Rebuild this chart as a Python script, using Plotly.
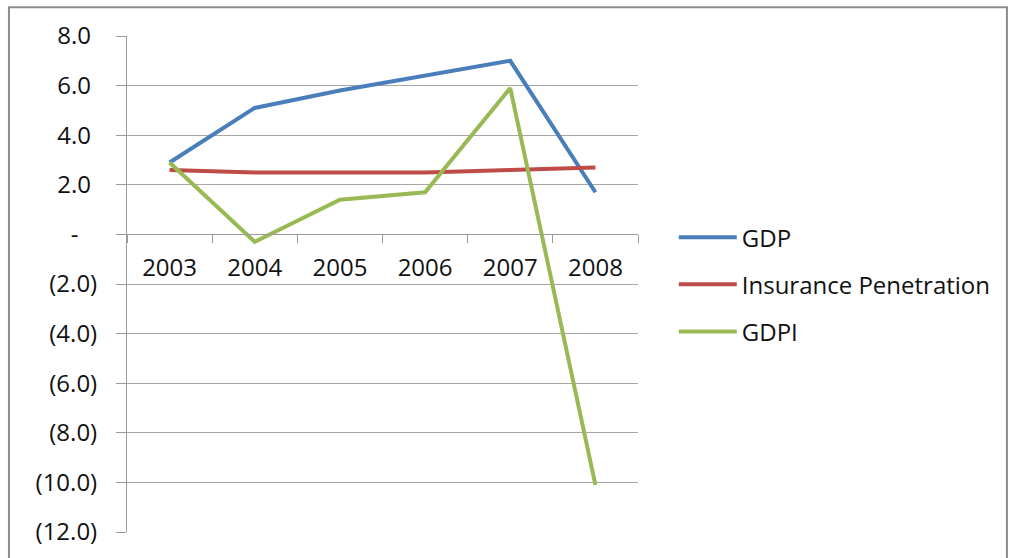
import plotly.graph_objects as go

years = ["2003", "2004", "2005", "2006", "2007", "2008"]
gdp = [2.9, 5.1, 5.8, 6.4, 7.0, 1.7]
insurance_penetration = [2.6, 2.5, 2.5, 2.5, 2.6, 2.7]
gdpi = [2.9, -0.3, 1.4, 1.7, 5.9, -10.1]

y_tickvals = [8, 6, 4, 2, 0, -2, -4, -6, -8, -10, -12]
y_ticktext = ["8.0\u00a0", "6.0\u00a0", "4.0\u00a0", "2.0\u00a0", "-\u00a0\u00a0\u00a0",
              "(2.0)", "(4.0)", "(6.0)", "(8.0)", "(10.0)", "(12.0)"]

series = [
    ("GDP", gdp, "#4A7EBB"),
    ("Insurance Penetration", insurance_penetration, "#BE4B48"),
    ("GDPI", gdpi, "#98B954"),
]

FONT = "Open Sans"
fig = go.Figure()
for i, (name, vals, color) in enumerate(series):
    fig.add_trace(go.Scatter(
        x=years, y=vals, name=name, mode="lines",
        line=dict(color=color, width=4),
        legendgroup=f"g{i}",
    ))

fig.update_layout(
    width=1010, height=558,
    margin=dict(l=127, r=372, t=36, b=26),
    paper_bgcolor="white", plot_bgcolor="white",
    font=dict(family=FONT, size=24, color="#111111"),
    showlegend=True,
    legend=dict(
        x=1.07, y=0.639, xanchor="left", yanchor="top",
        font=dict(family=FONT, size=24, color="#111111"),
        tracegroupgap=13, itemwidth=58,
        bgcolor="rgba(0,0,0,0)",
    ),
    xaxis=dict(
        type="category", range=[-0.5, 5.5],
        anchor="free", position=0.6,
        showline=True, linecolor="#9A9A9A", linewidth=1,
        ticks="outside", tickson="boundaries", ticklen=8, tickcolor="#9A9A9A",
        showgrid=False, zeroline=False,
        ticklabelstandoff=12,
        tickfont=dict(family=FONT, size=24, color="#111111"),
    ),
    yaxis=dict(
        range=[-12, 8], tickvals=y_tickvals, ticktext=y_ticktext,
        showgrid=True, gridcolor="#A6A6A6", gridwidth=1,
        showline=True, linecolor="#9A9A9A", linewidth=1,
        ticks="outside", ticklen=10, tickcolor="#9A9A9A",
        zeroline=False,
        ticklabelstandoff=14,
        tickfont=dict(family=FONT, size=24, color="#111111"),
    ),
    shapes=[dict(
        type="rect", xref="paper", yref="paper",
        x0=-0.231, x1=1.722, y0=-0.2, y1=1.058,
        line=dict(color="#8C8C8C", width=2), fillcolor="rgba(0,0,0,0)",
        layer="below",
    )],
)

fig.write_html("out.html", config={"displayModeBar": False},
               post_script="document.body.style.margin='0';")
